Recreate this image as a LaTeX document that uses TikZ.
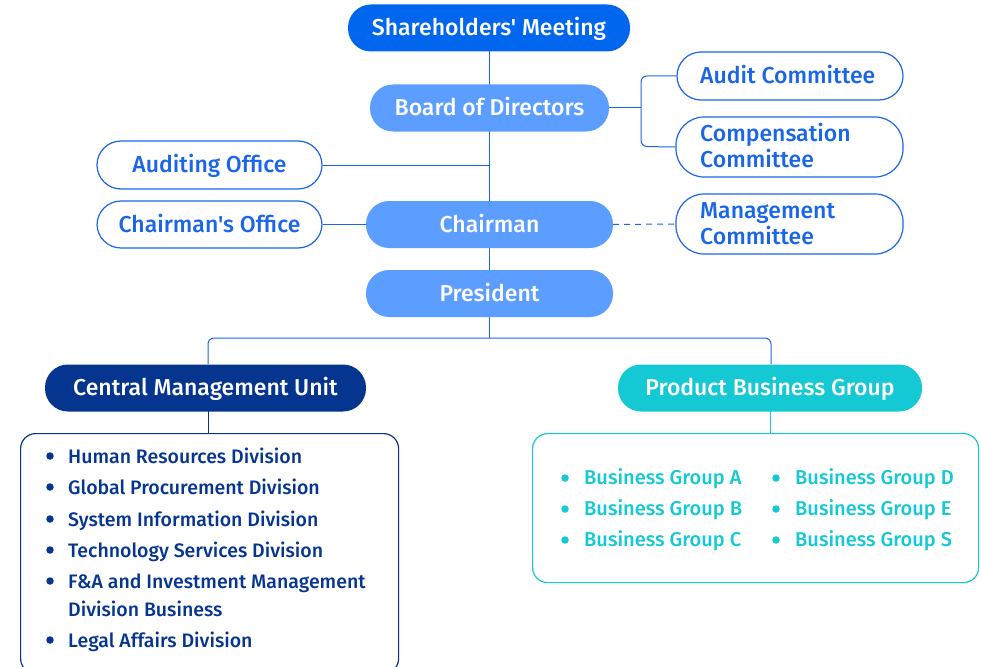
\documentclass[tikz,border=0pt]{standalone}
\usepackage{fontspec}
\setmainfont{Fira Sans}
\newfontfamily\firamed{Fira Sans Medium}
\usetikzlibrary{positioning}
\definecolor{cBlue}{HTML}{0066EE}
\definecolor{cLight}{HTML}{5C9EFF}
\definecolor{cNavy}{HTML}{06358F}
\definecolor{cCyan}{HTML}{14C8D4}
\definecolor{cLine}{HTML}{1A66E8}
\begin{document}
\begin{tikzpicture}[x=1pt,y=-1pt,
  capbig/.style={text height=15.9pt,text depth=0pt},
  pill/.style={rounded corners=23pt,minimum height=47pt,inner sep=0pt,text=white,font=\firamed\fontsize{23}{25}\selectfont,anchor=center,capbig},
  outl/.style={draw=cLine,line width=1.2pt,fill=white,rounded corners=24pt,inner sep=0pt,text=cLine,font=\firamed\fontsize{23}{26}\selectfont,anchor=center},
  conn/.style={draw=cLine,line width=1pt},
  navyitem/.style={text=cNavy,font=\firamed\fontsize{19.5}{22}\selectfont,anchor=west,inner sep=0pt,text height=13.5pt,text depth=0pt},
  cyanitem/.style={text=cCyan,font=\firamed\fontsize{20}{22}\selectfont,anchor=west,inner sep=0pt,text height=13.8pt,text depth=0pt},
  dotnavy/.style={fill=cNavy,circle,inner sep=0pt,minimum size=7.5pt},
  dotcyan/.style={fill=cCyan,circle,inner sep=0pt,minimum size=7.5pt}]
\useasboundingbox (0,0) rectangle (981,666);
% spine
\coordinate (spineTop) at (489,51);
\coordinate (spineBot) at (489,338);
\draw[conn] (spineTop) -- (spineBot);
% nodes
\node[pill,fill=cBlue,minimum width=282pt] (sm) at (489,28) {Shareholders' Meeting};
\node[pill,fill=cLight,minimum width=239pt] (bod) at (489.5,108) {Board of Directors};
\node[pill,fill=cLight,minimum width=247pt] (ch) at (489.5,224.5) {Chairman};
\node[pill,fill=cLight,minimum width=247pt] (pr) at (489.5,293.5) {President};

\node[outl,minimum width=226pt,minimum height=48pt] (ac) at (790,76) {};
\node[text=cLine,font=\firamed\fontsize{23}{26}\selectfont,anchor=west,inner sep=0pt,capbig] at (700,76) {Audit Committee};
\node[outl,minimum width=227pt,minimum height=60pt,rounded corners=28pt] (cc) at (789.5,147) {};
\node[text=cLine,font=\firamed\fontsize{23}{26}\selectfont,anchor=west,inner sep=0pt,align=left] at (700,146) {Compensation\\Committee};
\node[outl,minimum width=227pt,minimum height=60pt,rounded corners=28pt] (mc) at (789.5,224) {};
\node[text=cLine,font=\firamed\fontsize{23}{26}\selectfont,anchor=west,inner sep=0pt,align=left] at (700,224) {Management\\Committee};

\node[outl,capbig,minimum width=225pt,minimum height=48pt] (ao) at (209.5,165) {Auditing Office};
\node[outl,capbig,minimum width=225pt,minimum height=47pt] (co) at (209.5,224.5) {Chairman's Office};

% connectors
\coordinate (brX) at (641,108);
\draw[conn] (bod.east) -- (brX);
\draw[conn,rounded corners=6pt] (ac.west) -- (641,76) -- (641,146.5) -- (cc.west);
\draw[conn] (ao.east) -- (489,165);
\draw[conn] (co.east) -- (ch.west);
\draw[conn,dashed,dash pattern=on 6pt off 5pt] (ch.east) -- (mc.west);

% lower level
\node[pill,fill=cNavy,minimum width=321pt] (cmu) at (205.5,388) {Central Management Unit};
\node[pill,fill=cCyan,minimum width=304pt] (pbg) at (770,388) {Product Business Group};
\draw[conn,rounded corners=6pt] (208,364) -- (208,338) -- (771,338) -- (771,364);

\node[draw=cNavy,line width=1.2pt,rounded corners=15pt,minimum width=378pt,minimum height=240pt,inner sep=0pt,anchor=north west] (lbox) at (20,433) {};
\node[draw=cCyan,line width=1.2pt,rounded corners=15pt,minimum width=446pt,minimum height=149pt,inner sep=0pt,anchor=north west] (rbox) at (532,433) {};
\draw[draw=cNavy,line width=1pt] (208,411) -- (208,433);
\draw[draw=cCyan,line width=1pt] (770,411) -- (770,433);

% left list
\foreach \y/\t in {457/Human Resources Division,488/Global Procurement Division,520/System Information Division,551/Technology Services Division,582/F\&A and Investment Management,641/Legal Affairs Division}{
  \node[navyitem] at (68,\y) {\t};
}
\foreach \y in {456,487,519,550,581,640}{\node[dotnavy] at (50,\y) {};}
\node[navyitem] at (68,609.5) {Division Business};

% right list
\foreach \y/\a/\b in {478/A/D,509/B/E,540/C/S}{
  \node[dotcyan] at (565,\y) {};
  \node[cyanitem] at (584,\y) {Business Group \a};
  \node[dotcyan] at (776,\y) {};
  \node[cyanitem] at (795,\y) {Business Group \b};
}
\end{tikzpicture}
\end{document}
